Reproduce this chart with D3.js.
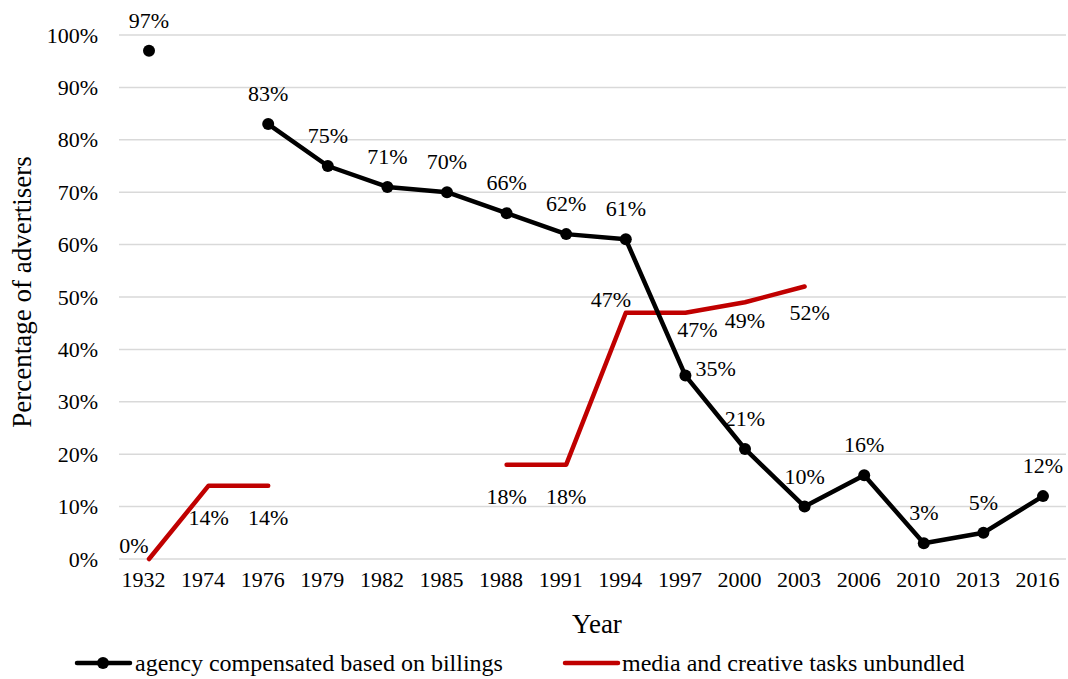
<!DOCTYPE html>
<meta charset="utf-8">
<style>
body { margin: 0; background: white; }
svg text { font-family: "Liberation Serif", "Times New Roman", Times, serif !important; fill: #000; }
.grid line { stroke: #d9d9d9; stroke-width: 1.5px; }
</style>
<svg width="1068" height="679"></svg>
<script src="https://d3js.org/d3.v7.min.js"></script>
<script>
var years = ["1932","1974","1976","1979","1982","1985","1988","1991","1994","1997","2000","2003","2006","2010","2013","2016"];
var billings = [97, null, 83, 75, 71, 70, 66, 62, 61, 35, 21, 10, 16, 3, 5, 12];
var unbundled = [0, 14, 14, null, null, null, 18, 18, 47, 47, 49, 52, null, null, null, null];
var yTicks = [0, 10, 20, 30, 40, 50, 60, 70, 80, 90, 100];

// label placement per point (layout only)
var billingsPos = ["above","above","above","above","above","above","above","above","above","right","above","above","above","above","above","above"];
var unbundledPos = ["left","below","below","","","","below","below","left","belowright","below2","belowright2","","","",""];

var svg = d3.select("svg"),
    margin = {top: 35, right: 2, bottom: 120, left: 119},
    width = 1068 - margin.left - margin.right,
    height = 679 - margin.top - margin.bottom;

var x = d3.scalePoint().domain(years).range([30, 924]);
var y = d3.scaleLinear().domain([0, 100]).range([height, 0]);

var g = svg.append("g").attr("transform", "translate(" + margin.left + "," + margin.top + ")");

g.append("g").attr("class", "grid")
  .selectAll("line").data(yTicks).enter().append("line")
    .attr("x1", 0).attr("x2", width)
    .attr("y1", function(d) { return y(d); }).attr("y2", function(d) { return y(d); });

var yAxis = g.append("g").call(d3.axisLeft(y).tickValues(yTicks).tickSize(0).tickPadding(21).tickFormat(function(d) { return d + "%"; }));
yAxis.select(".domain").remove();
yAxis.selectAll("text").style("font-size", "22px");

var xAxis = g.append("g").attr("transform", "translate(0," + height + ")")
  .call(d3.axisBottom(x).tickSize(0).tickPadding(12));
xAxis.select(".domain").remove();
xAxis.selectAll("text").style("font-size", "22px").attr("dx", -6);

function cx(i) { return x(years[i]); }

var line = d3.line()
  .defined(function(d) { return d != null; })
  .x(function(d, i) { return cx(i); })
  .y(function(d) { return y(d); });

g.append("path").datum(unbundled)
  .attr("fill", "none").attr("stroke", "#c00000").attr("stroke-width", 4.5)
  .attr("stroke-linecap", "round").attr("stroke-linejoin", "round")
  .attr("d", line);

g.append("path").datum(billings)
  .attr("fill", "none").attr("stroke", "#000").attr("stroke-width", 4.5)
  .attr("stroke-linecap", "round").attr("stroke-linejoin", "round")
  .attr("d", line);

var billPts = billings.map(function(v, i) { return {v: v, i: i}; }).filter(function(d) { return d.v != null; });
g.selectAll(".dot").data(billPts).enter().append("circle")
  .attr("cx", function(d) { return cx(d.i); })
  .attr("cy", function(d) { return y(d.v); })
  .attr("r", 6).attr("fill", "#000");

function offset(pos) {
  if (pos == "above") return [0, -23, "middle"];
  if (pos == "below") return [0, 39, "middle"];
  if (pos == "below2") return [0, 26, "middle"];
  if (pos == "right") return [10, 0, "start"];
  if (pos == "left") return [-15, -6, "middle"];
  if (pos == "belowright") return [12, 24, "middle"];
  if (pos == "belowright2") return [5, 33, "middle"];
  return [0, 0, "middle"];
}

g.selectAll(".lb").data(billPts).enter().append("text")
  .attr("x", function(d) { return cx(d.i) + offset(billingsPos[d.i])[0]; })
  .attr("y", function(d) { return y(d.v) + offset(billingsPos[d.i])[1]; })
  .attr("text-anchor", function(d) { return offset(billingsPos[d.i])[2]; })
  .style("font-size", "22px")
  .text(function(d) { return d.v + "%"; });

var unbPts = unbundled.map(function(v, i) { return {v: v, i: i}; }).filter(function(d) { return d.v != null; });
g.selectAll(".lu").data(unbPts).enter().append("text")
  .attr("x", function(d) { return cx(d.i) + offset(unbundledPos[d.i])[0]; })
  .attr("y", function(d) { return y(d.v) + offset(unbundledPos[d.i])[1]; })
  .attr("text-anchor", function(d) { return offset(unbundledPos[d.i])[2]; })
  .style("font-size", "22px")
  .text(function(d) { return d.v + "%"; });

// axis titles
svg.append("text").attr("x", 597).attr("y", 633).attr("text-anchor", "middle")
  .style("font-size", "27px").text("Year");
svg.append("text").attr("transform", "translate(31,292) rotate(-90)").attr("text-anchor", "middle")
  .style("font-size", "27px").text("Percentage of advertisers");

// legend
var leg = svg.append("g").attr("transform", "translate(0,663)");
leg.append("line").attr("x1", 77).attr("x2", 130).attr("stroke", "#000").attr("stroke-width", 4.5).attr("stroke-linecap", "round");
leg.append("circle").attr("cx", 103).attr("r", 6).attr("fill", "#000");
leg.append("text").attr("x", 135).attr("y", 8).style("font-size", "24px").text("agency compensated based on billings");
leg.append("line").attr("x1", 565).attr("x2", 618).attr("stroke", "#c00000").attr("stroke-width", 4.5).attr("stroke-linecap", "round");
leg.append("text").attr("x", 622).attr("y", 8).style("font-size", "24px").text("media and creative tasks unbundled");
</script>
